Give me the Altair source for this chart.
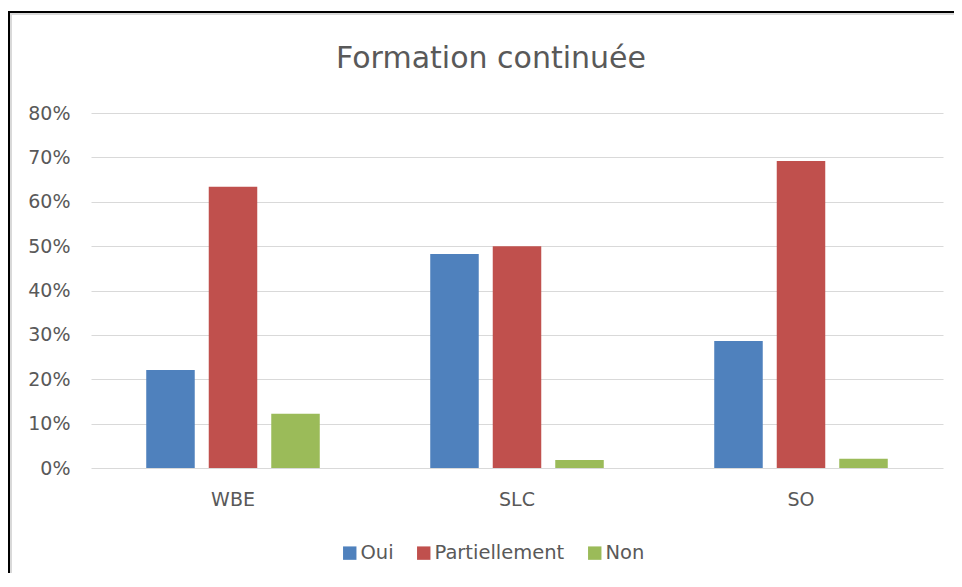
import altair as alt
import pandas as pd

# ---- data ----
groups = ["WBE", "SLC", "SO"]
series = ["Oui", "Partiellement", "Non"]
oui = [0.221, 0.482, 0.286]
partiellement = [0.634, 0.500, 0.692]
non = [0.122, 0.018, 0.021]
y_ticks = [0.0, 0.1, 0.2, 0.3, 0.4, 0.5, 0.6, 0.7, 0.8]
colors = ["#4F81BD", "#C0504D", "#9BBB59"]
title_text = "Formation continuée"

rows = []
for s, vals in zip(series, [oui, partiellement, non]):
    for g, v in zip(groups, vals):
        rows.append({"groupe": g, "serie": s, "valeur": v})
df = pd.DataFrame(rows)

FONT = "DejaVu Sans"
TXT = "#595959"
GRID = "#D9D9D9"

bars = alt.Chart(df).mark_bar().encode(
    x=alt.X(
        "groupe:N", sort=groups,
        scale=alt.Scale(paddingInner=0.389, paddingOuter=0.1945),
        axis=alt.Axis(title=None, labelAngle=0, ticks=False, tickSize=0, domain=False,
                      grid=False, labelPadding=22, labelFont=FONT, labelFontSize=19,
                      labelColor=TXT),
    ),
    xOffset=alt.XOffset("serie:N", sort=series,
                        scale=alt.Scale(paddingInner=0.224, paddingOuter=0)),
    y=alt.Y(
        "valeur:Q",
        scale=alt.Scale(domain=[0, 0.8], nice=False),
        axis=alt.Axis(title=None, values=y_ticks, format=".0%", domain=False, ticks=False,
                      tickSize=0, labelPadding=21, grid=True, gridColor=GRID, gridWidth=1,
                      labelFont=FONT, labelFontSize=19, labelColor=TXT),
    ),
    color=alt.Color(
        "serie:N", sort=series,
        scale=alt.Scale(domain=series, range=colors),
        legend=alt.Legend(title=None, orient="none", legendX=249, legendY=430,
                          direction="horizontal", symbolType="square", symbolSize=180,
                          symbolStrokeWidth=0, labelFont=FONT, labelFontSize=19.5,
                          labelColor=TXT, labelOffset=1, columnPadding=20, padding=0),
    ),
)

# ---- decorative frame (outside the plot area) ----
frame_df = pd.DataFrame({"k": [0]})
left_gray = alt.Chart(frame_df).mark_rule(color=GRID, strokeWidth=2).encode(
    x=alt.value(-80), y=alt.value(-99), y2=alt.value(600))
top_gray = alt.Chart(frame_df).mark_rule(color=GRID, strokeWidth=2).encode(
    x=alt.value(-81), x2=alt.value(880), y=alt.value(-99))
left_black = alt.Chart(frame_df).mark_rule(color="black", strokeWidth=2).encode(
    x=alt.value(-82), y=alt.value(-102), y2=alt.value(600))
top_black = alt.Chart(frame_df).mark_rule(color="black", strokeWidth=2).encode(
    x=alt.value(-83), x2=alt.value(880), y=alt.value(-101))

chart = alt.layer(left_gray, top_gray, left_black, top_black, bars).properties(
    width=852,
    height=355,
    title=alt.TitleParams(title_text, font=FONT, fontSize=30, fontWeight="normal",
                          color=TXT, anchor="middle", frame="group",
                          baseline="alphabetic", offset=-88, dx=-26),
    autosize=alt.AutoSizeParams(type="none"),
    padding={"left": 83, "top": 105, "right": 11, "bottom": 105},
    background="white",
).configure_view(stroke=None)

chart.save("out.html", embed_options={"renderer": "svg", "actions": False})
